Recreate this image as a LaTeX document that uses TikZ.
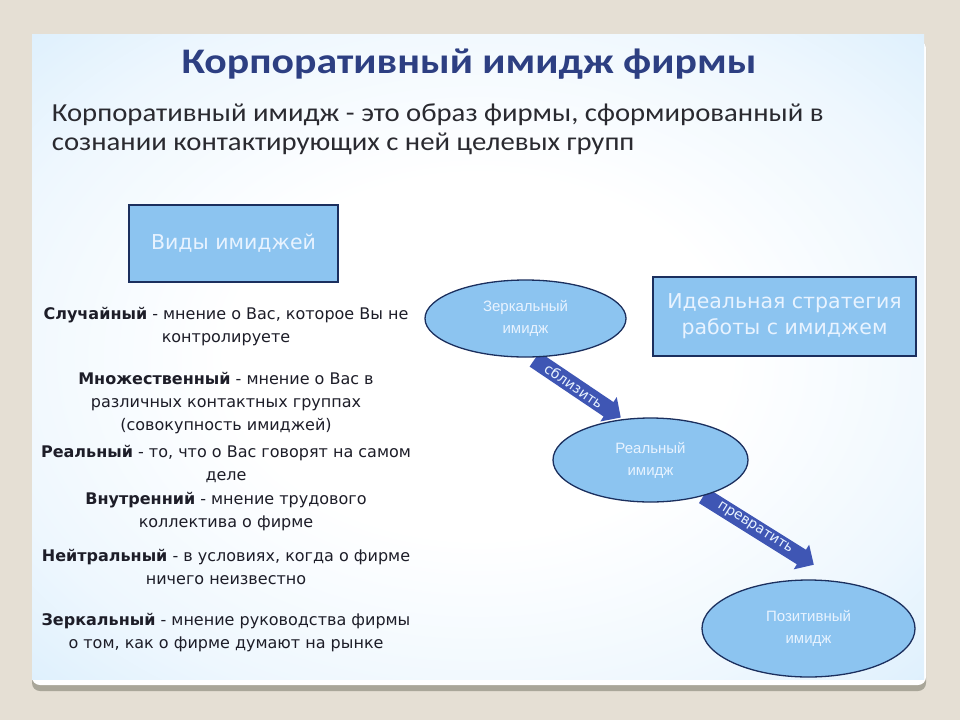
\documentclass[tikz,border=0pt]{standalone}
\usepackage{fontspec}
\setmainfont{Carlito}
\newfontfamily\vfont{DejaVu Sans}
\newfontfamily\efont{Liberation Sans}
\usetikzlibrary{shapes.geometric,shapes.arrows}
\definecolor{beige}{HTML}{E5DFD4}
\definecolor{shadowc}{HTML}{A9A699}
\definecolor{skyb}{HTML}{A9D5F6}
\definecolor{skym}{HTML}{CDE8FB}
\definecolor{skyl}{HTML}{EEF7FE}
\definecolor{boxfill}{HTML}{8CC4F0}
\definecolor{navy}{HTML}{1B2F5E}
\definecolor{titlec}{HTML}{2D3F82}
\definecolor{bodyc}{HTML}{2A2A30}
\definecolor{listc}{HTML}{1D1D28}
\definecolor{arrowc}{HTML}{3F56B4}
\definecolor{lighttext}{HTML}{E8F3FF}
\pgfdeclareradialshading{slideshade}{\pgfpoint{0bp}{0bp}}{color(0bp)=(white); color(14bp)=(white); color(28bp)=(skyl); color(44bp)=(skym); color(62bp)=(skyb); color(72bp)=(skyb)}
\tikzset{
  boxstyle/.style={draw=navy, line width=1.3pt, fill=boxfill, text=lighttext, font=\vfont\fontsize{20.5}{26}\selectfont, align=center, inner sep=0pt},
  ellstyle/.style={ellipse, draw=navy, line width=1.3pt, fill=boxfill, text=lighttext, font=\efont\fontsize{15}{22}\selectfont, align=center, inner sep=0pt},
  blockarrow/.style={single arrow, fill=arrowc, draw=none, text=lighttext, font=\vfont\fontsize{14}{16}\selectfont, inner sep=3pt, single arrow head extend=6pt, single arrow head indent=0pt},
  listitem/.style={text=listc, font=\vfont\fontsize{16}{23}\selectfont, align=center, anchor=north},
}
\begin{document}
\begin{tikzpicture}[x=1pt,y=-1pt]
\useasboundingbox (0,0) rectangle (960,720);
\fill[beige] (0,0) rectangle (960,720);
% slide
\fill[shadowc, rounded corners=8pt] (32,40) rectangle (926,691);
\fill[white, rounded corners=8pt] (32,40) rectangle (926,685);
\shade[shading=slideshade] (32,34) rectangle (924,679);
% title
\node[text=titlec, font=\bfseries\fontsize{36}{40}\selectfont, xscale=1.16] (title) at (469,64) {Корпоративный имидж фирмы};
\node[text=bodyc, font=\fontsize{26}{29}\selectfont, align=left, anchor=north west, xscale=1.105] (def) at (48,100)
  {Корпоративный имидж - это образ фирмы, сформированный в\\сознании контактирующих с ней целевых групп};
% left box
\node[boxstyle, minimum width=209pt, minimum height=77pt] (vidy) at (233.5,243.5) {Виды имиджей};
% list
\node[listitem] (l1) at (226,304) {\textbf{Случайный} - мнение о Вас, которое Вы не\\контролируете};
\node[listitem] (l2) at (226,369) {\textbf{Множественный} - мнение о Вас в\\различных контактных группах\\(совокупность имиджей)};
\node[listitem] (l3) at (226,442) {\textbf{Реальный} - то, что о Вас говорят на самом\\деле};
\node[listitem] (l4) at (226,489) {\textbf{Внутренний} - мнение трудового\\коллектива о фирме};
\node[listitem] (l5) at (226,546) {\textbf{Нейтральный} - в условиях, когда о фирме\\ничего неизвестно};
\node[listitem] (l6) at (226,610) {\textbf{Зеркальный} - мнение руководства фирмы\\о том, как о фирме думают на рынке};
% right box
\node[boxstyle, minimum width=263pt, minimum height=79pt] (ideal) at (784.5,316.5) {Идеальная стратегия\\работы с имиджем};
% arrows (behind ellipses)
\node[blockarrow, minimum height=104pt, rotate=-34] (a1) at (574,386) {сблизить};
\node[blockarrow, minimum height=130pt, rotate=-32] (a2) at (755,528) {превратить};
% ellipses
\node[ellstyle, minimum width=201pt, minimum height=77pt] (zerk) at (525.5,318.5) {Зеркальный\\имидж};
\node[ellstyle, minimum width=195pt, minimum height=84pt] (real) at (650.5,460) {Реальный\\имидж};
\node[ellstyle, minimum width=213pt, minimum height=97pt] (poz) at (808.5,628.5) {Позитивный\\имидж};
\end{tikzpicture}
\end{document}
